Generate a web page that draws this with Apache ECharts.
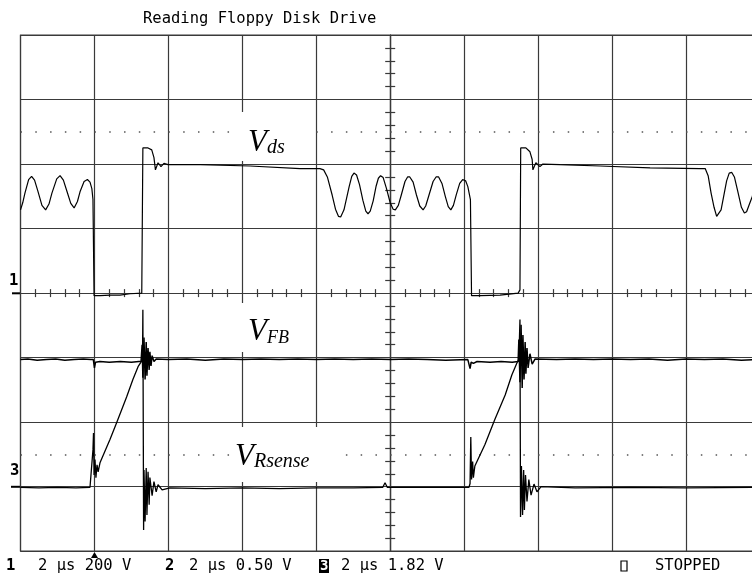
<!DOCTYPE html>
<html><head><meta charset="utf-8">
<script src="https://cdn.jsdelivr.net/npm/echarts@6/dist/echarts.min.js"></script>
<style>html,body{margin:0;padding:0;background:#fff}#c{width:752px;height:576px}</style>
</head><body><div id="c"></div>
<script>
// ---- data (x: time in µs, 2 µs/div, trigger at 0; y: screen divisions) ----
const titleText = 'Reading Floppy Disk Drive';
const channelNames = ['1', '2', '3'];
const channelSettings = ['2 μs 200 V', '2 μs 0.50 V', '2 μs 1.82 V'];
const statusText = 'STOPPED';
const traceLabels = [['V', 'ds'], ['V', 'FB'], ['V', 'Rsense']];
const dottedLevels = [2.5, -2.5];

const vds = [
  [-2.00,1.29],[-1.94,1.40],[-1.88,1.55],[-1.78,1.76],[-1.70,1.81],[-1.62,1.75],[-1.53,1.58],[-1.42,1.36],[-1.32,1.29],[-1.23,1.38],
  [-1.15,1.55],[-1.02,1.77],[-0.93,1.82],[-0.84,1.75],[-0.74,1.57],[-0.64,1.39],[-0.55,1.32],[-0.46,1.42],[-0.39,1.57],[-0.28,1.73],
  [-0.19,1.76],[-0.12,1.72],[-0.07,1.62],[-0.04,1.45],[-0.01,-0.04],[0.15,-0.04],[0.42,-0.03],
  [0.69,-0.03],[0.96,-0.01],[1.28,0.00],[1.31,2.25],[1.45,2.25],[1.55,2.22],[1.61,2.10],[1.65,1.91],
  [1.72,2.02],[1.80,1.96],[1.88,2.01],[1.99,1.99],[2.86,1.99],[4.21,1.97],[5.56,1.93],[6.10,1.93],
  [6.20,1.91],[6.30,1.80],[6.43,1.52],[6.52,1.30],[6.60,1.19],[6.66,1.18],[6.75,1.29],[6.89,1.65],[6.96,1.81],[7.02,1.86],[7.09,1.83],
  [7.17,1.68],[7.26,1.44],[7.34,1.27],[7.40,1.23],[7.46,1.27],[7.54,1.43],[7.62,1.66],[7.68,1.78],[7.74,1.82],[7.81,1.79],
  [7.90,1.62],[8.00,1.40],[8.08,1.30],[8.14,1.29],[8.22,1.36],[8.30,1.52],[8.40,1.73],[8.47,1.80],[8.53,1.80],[8.62,1.72],
  [8.71,1.52],[8.80,1.35],[8.89,1.29],[8.96,1.35],[9.05,1.52],[9.16,1.73],[9.24,1.80],[9.31,1.80],[9.40,1.70],
  [9.49,1.50],[9.57,1.34],[9.64,1.29],[9.71,1.36],[9.79,1.53],[9.88,1.70],[9.96,1.76],[10.04,1.74],[10.10,1.65],
  [10.17,1.45],[10.20,-0.04],[10.43,-0.04],[10.97,-0.03],[11.46,0.00],[11.51,0.05],[11.53,2.25],[11.67,2.25],
  [11.78,2.19],[11.84,2.07],[11.86,1.91],[11.94,2.02],[12.05,1.96],[12.13,2.00],[12.59,1.99],[13.68,1.97],
  [15.03,1.94],[16.38,1.93],[16.52,1.93],[16.60,1.82],[16.68,1.55],[16.76,1.33],[16.83,1.19],[16.88,1.19],[16.95,1.29],[17.02,1.50],[17.10,1.74],
  [17.17,1.86],[17.24,1.87],[17.31,1.80],[17.40,1.58],[17.50,1.33],[17.58,1.24],[17.64,1.26],[17.71,1.37],[17.79,1.49],[17.89,1.68],[18.00,1.80]
];

const vfb = [
  [-2.00,-1.03],[-1.80,-1.02],[-1.55,-1.04],[-1.30,-1.03],[-1.05,-1.02],[-0.80,-1.04],[-0.55,-1.03],[-0.30,-1.02],
  [-0.10,-1.03],[-0.03,-1.03],[0.00,-1.16],[0.03,-1.07],[0.08,-1.10],[0.15,-1.06],[0.40,-1.07],[0.70,-1.06],
  [1.00,-1.07],[1.20,-1.06],[1.26,-1.06],[1.29,-0.80],[1.31,-1.31],[1.34,-0.69],[1.37,-1.34],[1.40,-0.76],
  [1.42,-1.28],[1.45,-0.85],[1.48,-1.19],[1.50,-0.91],[1.53,-1.13],[1.56,-0.97],[1.61,-1.06],[1.67,-1.02],
  [2.0,-1.03],[2.5,-1.02],[3.0,-1.04],[3.5,-1.02],[4.0,-1.03],[4.5,-1.02],[5.0,-1.03],[5.5,-1.02],
  [6.0,-1.03],[6.5,-1.02],[7.0,-1.03],[7.5,-1.02],[8.0,-1.03],[8.5,-1.02],[9.0,-1.03],[9.5,-1.04],
  [10.10,-1.03],[10.13,-1.03],[10.16,-1.17],[10.19,-1.07],[10.25,-1.09],[10.35,-1.06],[10.70,-1.07],[11.00,-1.06],
  [11.30,-1.07],[11.46,-1.06],[11.48,-0.72],[11.51,-1.38],[11.54,-0.49],[11.57,-1.47],[11.59,-0.65],[11.62,-1.34],
  [11.65,-0.76],[11.67,-1.25],[11.70,-0.85],[11.73,-1.16],[11.78,-0.94],[11.84,-1.10],[11.92,-1.02],[12.5,-1.03],
  [13.0,-1.02],[13.5,-1.03],[14.0,-1.02],[14.5,-1.03],[15.0,-1.02],[15.5,-1.04],[16.0,-1.02],[16.5,-1.03],
  [17.0,-1.02],[17.5,-1.04],[18.0,-1.03]
];

const vrsense = [
  [-2.00,-3.01],[-1.50,-3.02],[-1.00,-3.01],[-0.50,-3.02],[-0.12,-3.01],[-0.07,-2.99],[-0.04,-2.43],[-0.025,-2.17],
  [-0.01,-2.82],[0.015,-2.58],[0.04,-2.86],[0.07,-2.66],[0.10,-2.77],[0.15,-2.63],[0.42,-2.27],[0.60,-2.01],
  [0.87,-1.61],[1.04,-1.34],[1.18,-1.14],[1.26,-1.07],[1.30,-1.03],[1.31,-0.26],[1.33,-3.67],[1.34,-2.74],
  [1.37,-3.54],[1.40,-2.71],[1.42,-3.44],[1.45,-2.77],[1.48,-3.28],[1.50,-2.86],[1.56,-3.14],[1.61,-2.92],
  [1.67,-3.08],[1.72,-2.97],[1.83,-3.05],[2.04,-3.02],[3.0,-3.03],[4.0,-3.02],[5.0,-3.03],[6.0,-3.02],
  [7.0,-3.02],[7.80,-3.01],[7.86,-2.94],[7.92,-3.01],[9.0,-3.01],[10.13,-3.01],[10.16,-2.95],[10.18,-2.23],
  [10.20,-2.89],[10.23,-2.61],[10.25,-2.86],[10.29,-2.68],[10.56,-2.35],[10.83,-1.96],[11.11,-1.58],[11.29,-1.27],
  [11.43,-1.08],[11.48,-1.03],[11.51,-0.41],[11.525,-3.47],[11.55,-2.68],[11.58,-3.44],[11.61,-2.74],[11.63,-3.36],
  [11.66,-2.82],[11.70,-3.23],[11.75,-2.89],[11.81,-3.13],[11.89,-2.96],[11.97,-3.08],[12.08,-3.00],[13.0,-3.02],
  [14.5,-3.01],[16.0,-3.02],[18.0,-3.01]
];

// ---- chart ----
const GRID = '#3a3a3a';
const gridLine = { color: GRID, width: 1.2 };
const MONO = '"DejaVu Sans Mono", monospace';
const SERIF = '"Liberation Serif", "Times New Roman", serif';
const hidden = { axisLabel: { show: false }, axisTick: { show: false } };

function centerX(pos) {
  return Object.assign({ type: 'value', min: -2, max: 18, interval: 2, position: pos,
    axisLine: { show: true, onZero: true, onZeroAxisIndex: 0, lineStyle: gridLine },
    splitLine: { show: false },
    minorTick: { show: true, splitNumber: 5, length: 4, lineStyle: gridLine } }, hidden);
}
function centerY(pos) {
  return Object.assign({ type: 'value', min: -4, max: 4, interval: 1, position: pos,
    axisLine: { show: true, onZero: true, onZeroAxisIndex: 3, lineStyle: gridLine },
    splitLine: { show: false },
    minorTick: { show: true, splitNumber: 5, length: 5, lineStyle: gridLine } }, hidden);
}
function trace(data, w) {
  return { type: 'line', data: data, showSymbol: false, xAxisIndex: 0, yAxisIndex: 0,
    lineStyle: { color: '#000', width: w }, silent: true, z: 5 };
}

const labelBoxes = [
  { x: 232, y: 112, w: 78, h: 49 },
  { x: 232, y: 303, w: 78, h: 49 },
  { x: 230, y: 427, w: 104, h: 55 }
];
const labelPos = [ { x: 248, y: 158, sub: 20 }, { x: 248, y: 347, sub: 18 }, { x: 235, y: 472, sub: 20 } ];

const graphics = [];
labelBoxes.forEach((b, i) => {
  graphics.push({ type: 'rect', shape: { x: b.x, y: b.y, width: b.w, height: b.h }, style: { fill: '#fff' }, z: 50 });
  const p = labelPos[i];
  graphics.push({ type: 'text', x: p.x, y: p.y, z: 51,
    style: { text: '{v|' + traceLabels[i][0] + '}{s|' + traceLabels[i][1] + '}', fill: '#000',
      verticalAlign: 'bottom', align: 'left',
      rich: { v: { font: 'italic 31px ' + SERIF, fill: '#000', verticalAlign: 'bottom', lineHeight: 31 },
              s: { font: 'italic ' + p.sub + 'px ' + SERIF, fill: '#000', verticalAlign: 'bottom', lineHeight: 31 } } } });
});
// title
graphics.push({ type: 'text', x: 143, y: 19, style: { text: titleText, font: '15.5px ' + MONO, fill: '#000', verticalAlign: 'middle' } });
// footer
const fy = 566;
graphics.push({ type: 'text', x: 6, y: fy, style: { text: channelNames[0], font: 'bold 15.5px ' + MONO, fill: '#000', verticalAlign: 'middle' } });
graphics.push({ type: 'text', x: 38, y: fy, style: { text: channelSettings[0], font: '15.5px ' + MONO, fill: '#000', verticalAlign: 'middle' } });
graphics.push({ type: 'text', x: 165, y: fy, style: { text: channelNames[1], font: 'bold 15.5px ' + MONO, fill: '#000', verticalAlign: 'middle' } });
graphics.push({ type: 'text', x: 189, y: fy, style: { text: channelSettings[1], font: '15.5px ' + MONO, fill: '#000', verticalAlign: 'middle' } });
graphics.push({ type: 'rect', shape: { x: 319, y: 559, width: 10, height: 14 }, style: { fill: '#000' } });
graphics.push({ type: 'text', x: 320, y: fy, z: 2, style: { text: channelNames[2], font: 'bold 14px ' + MONO, fill: '#fff', verticalAlign: 'middle' } });
graphics.push({ type: 'text', x: 341, y: fy, style: { text: channelSettings[2], font: '15.5px ' + MONO, fill: '#000', verticalAlign: 'middle' } });
graphics.push({ type: 'rect', shape: { x: 621, y: 561, width: 6, height: 10 }, style: { fill: 'none', stroke: '#000', lineWidth: 1.2 } });
graphics.push({ type: 'text', x: 655, y: fy, style: { text: statusText, font: '15.5px ' + MONO, fill: '#000', verticalAlign: 'middle' } });
// trigger marker
graphics.push({ type: 'polygon', shape: { points: [[91, 558], [98, 558], [94.5, 552]] }, style: { fill: '#000' } });
// channel ground markers
graphics.push({ type: 'text', x: 9, y: 281, style: { text: channelNames[0], font: 'bold 15.5px ' + MONO, fill: '#000', verticalAlign: 'middle' } });
graphics.push({ type: 'line', shape: { x1: 12, y1: 293.3, x2: 20, y2: 293.3 }, style: { stroke: '#000', lineWidth: 2 } });
graphics.push({ type: 'text', x: 10, y: 471, style: { text: channelNames[2], font: 'bold 15.5px ' + MONO, fill: '#000', verticalAlign: 'middle' } });
graphics.push({ type: 'line', shape: { x1: 11, y1: 486.8, x2: 20, y2: 486.8 }, style: { stroke: '#000', lineWidth: 2 } });

const vdsSeries = trace(vds, 1.2);
vdsSeries.markLine = { silent: true, symbol: 'none', label: { show: false }, animation: false,
  lineStyle: { color: '#555', width: 1.5, type: [1.5, 13.29] },
  data: dottedLevels.map(v => ({ yAxis: v })) };

const option = {
  animation: false,
  backgroundColor: '#fff',
  grid: { left: 20.5, top: 35, right: -7.9, height: 516.2, outerBoundsMode: 'none',
    show: true, borderColor: GRID, borderWidth: 1.2, backgroundColor: 'transparent' },
  xAxis: [
    Object.assign({ type: 'value', min: -2, max: 18, interval: 2, axisLine: { show: false },
      splitLine: { show: true, lineStyle: gridLine } }, hidden),
    centerX('bottom'), centerX('top'),
    { type: 'value', min: -10, max: 10, show: false }
  ],
  yAxis: [
    Object.assign({ type: 'value', min: -4, max: 4, interval: 1, axisLine: { show: false },
      splitLine: { show: true, lineStyle: gridLine } }, hidden),
    centerY('left'), centerY('right')
  ],
  series: [vdsSeries, trace(vfb, 1.5), trace(vrsense, 1.3)],
  graphic: graphics
};
const chart = echarts.init(document.getElementById('c'));
chart.setOption(option);
</script></body></html>
